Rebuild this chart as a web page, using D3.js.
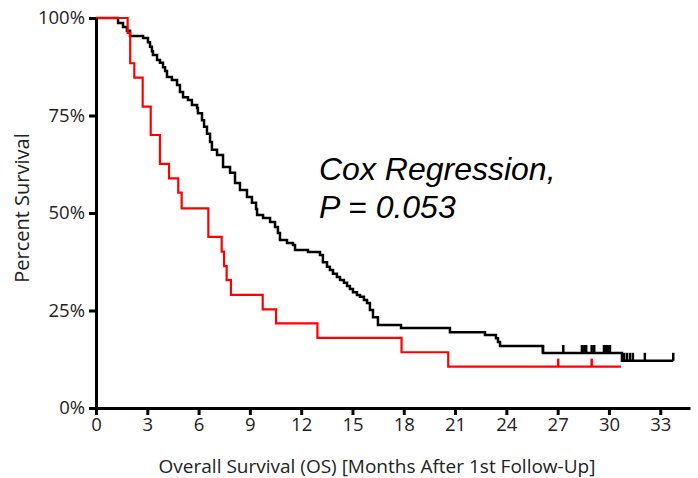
<!DOCTYPE html>
<html>
<head>
<meta charset="utf-8">
<script src="https://cdn.jsdelivr.net/npm/d3@7"></script>
<style>
  body { margin: 0; background: #fff; }
  svg { display: block; }
</style>
</head>
<body>
<div id="chart"></div>
<script>
// Kaplan-Meier steps: time (months) and survival (%) after each drop
const blackTimes = [1.29, 1.58, 1.81, 1.99, 2.75, 3.04, 3.16, 3.27, 3.33, 3.57, 3.74, 3.92, 4.04, 4.15, 4.44,
  4.74, 4.91, 5.09, 5.38, 5.61, 5.91, 5.96, 6.20, 6.32, 6.49, 6.67, 6.78, 7.08, 7.43, 7.84, 8.13, 8.42, 8.83,
  9.12, 9.36, 9.42, 9.77, 10.18, 10.47, 10.64, 10.76, 11.17, 11.52, 11.64, 12.40, 13.10, 13.27, 13.51, 13.68,
  13.86, 14.09, 14.27, 14.50, 14.68, 14.85, 15.03, 15.26, 15.44, 15.67, 15.85, 16.02, 16.20, 16.49, 17.84,
  20.70, 22.75, 23.39, 23.51, 23.63, 26.14, 30.76];
const blackSurvival = [98.7, 97.7, 96.7, 95.4, 94.9, 93.8, 92.6, 91.5, 90.5, 89.2, 88.5, 87.4, 86.4, 84.9, 84.1,
  82.8, 81.0, 79.7, 79.0, 77.7, 76.9, 75.6, 73.8, 72.1, 70.3, 68.2, 66.2, 64.9, 61.8, 60.3, 57.7, 55.9, 54.1,
  52.6, 51.0, 49.5, 48.7, 47.7, 46.4, 44.9, 43.1, 42.3, 41.8, 40.5, 40.0, 39.2, 37.4, 36.2, 35.4,
  34.4, 33.6, 32.8, 32.1, 31.3, 30.5, 29.7, 29.0, 28.5, 27.7, 26.9, 25.1, 23.3, 21.3, 20.5,
  19.4, 18.7, 17.9, 16.9, 15.9, 14.1, 12.1];
const blackEnd = 33.76;
const blackCensored = [26.14, 27.33, 28.42, 28.56, 28.67, 28.99, 29.14, 29.71, 29.82, 29.94, 30.06,
  30.88, 31.05, 31.23, 31.40, 32.10, 33.76];

const redTimes = [1.85, 2.0, 2.24, 2.73, 3.2, 3.74, 4.27, 4.81, 5.01, 6.57, 7.35, 7.49, 7.64, 7.89, 9.75,
  10.53, 12.95, 17.87, 20.6];
const redSurvival = [96.2, 88.4, 84.7, 77.3, 70.0, 62.6, 58.9, 55.2, 51.2, 43.9, 40.1, 36.4, 32.8, 29.0, 25.3,
  21.7, 18.0, 14.3, 10.6];
const redEnd = 30.7;
const redCensored = [27.03, 28.99];

const xTicks = [0, 3, 6, 9, 12, 15, 18, 21, 24, 27, 30, 33];
const yTicks = [0, 25, 50, 75, 100];

const width = 698;
const height = 478;

const svg = d3.select('#chart')
  .append('svg')
  .attr('width', width)
  .attr('height', height);

const x = d3.scaleLinear().domain([0, 34.74]).range([96, 690]);
const y = d3.scaleLinear().domain([0, 100]).range([408, 18]);

const labelFont = '"Open Sans", sans-serif';

// Build step data from the arrays
const toSteps = (times, surv, end) => {
  const pts = [[0, 100]];
  times.forEach((t, i) => pts.push([t, surv[i]]));
  pts.push([end, surv[surv.length - 1]]);
  return pts;
};

const survAt = (times, surv, t) => {
  let s = 100;
  times.forEach((tt, i) => { if (tt <= t) s = surv[i]; });
  return s;
};

const line = d3.line()
  .x((d) => x(d[0]))
  .y((d) => y(d[1]))
  .curve(d3.curveStepAfter);

// Curves
const drawCurve = (times, surv, end, censored, color, strokeWidth) => {
  svg.append('path')
    .datum(toSteps(times, surv, end))
    .attr('fill', 'none')
    .attr('stroke', color)
    .attr('stroke-width', strokeWidth)
    .attr('d', line);

  svg.selectAll(null)
    .data(censored)
    .enter()
    .append('line')
    .attr('x1', (d) => x(d))
    .attr('x2', (d) => x(d))
    .attr('y1', (d) => y(survAt(times, surv, d)))
    .attr('y2', (d) => y(survAt(times, surv, d)) - 8)
    .attr('stroke', color)
    .attr('stroke-width', 2.5);
};

drawCurve(blackTimes, blackSurvival, blackEnd, blackCensored, '#000', 2.5);
drawCurve(redTimes, redSurvival, redEnd, redCensored, '#ff0000', 2.2);

// Axes
const xAxis = svg.append('g')
  .attr('transform', `translate(0,${y(0)})`)
  .call(d3.axisBottom(x).tickValues(xTicks).tickSize(7).tickPadding(3).tickSizeOuter(0));

const yAxis = svg.append('g')
  .attr('transform', `translate(${x(0)},0)`)
  .call(d3.axisLeft(y).tickValues(yTicks).tickSize(7).tickPadding(4).tickSizeOuter(0)
    .tickFormat((d) => d + '%'));

[xAxis, yAxis].forEach((g) => {
  g.select('.domain').attr('stroke', '#000').attr('stroke-width', 3);
  g.selectAll('.tick line').attr('stroke', '#000').attr('stroke-width', 3);
  g.selectAll('.tick text')
    .attr('fill', '#222')
    .style('font-family', labelFont)
    .style('font-size', '18.5px');
});

// Axis titles
svg.append('text')
  .attr('x', 377)
  .attr('y', 473)
  .attr('text-anchor', 'middle')
  .attr('fill', '#222')
  .style('font-family', labelFont)
  .style('font-size', '19px')
  .text('Overall Survival (OS) [Months After 1st Follow-Up]');

svg.append('text')
  .attr('transform', 'translate(29,208) rotate(-90)')
  .attr('text-anchor', 'middle')
  .attr('fill', '#222')
  .style('font-family', labelFont)
  .style('font-size', '20px')
  .text('Percent Survival');

// Annotation
svg.append('text')
  .attr('x', 319)
  .attr('y', 180)
  .attr('fill', '#000')
  .style('font-family', '"Liberation Sans", Arial, sans-serif')
  .style('font-style', 'italic')
  .style('font-size', '32px')
  .text('Cox Regression,');

svg.append('text')
  .attr('x', 319)
  .attr('y', 218)
  .attr('fill', '#000')
  .style('font-family', '"Liberation Sans", Arial, sans-serif')
  .style('font-style', 'italic')
  .style('font-size', '32px')
  .text('P = 0.053');
</script>
</body>
</html>
